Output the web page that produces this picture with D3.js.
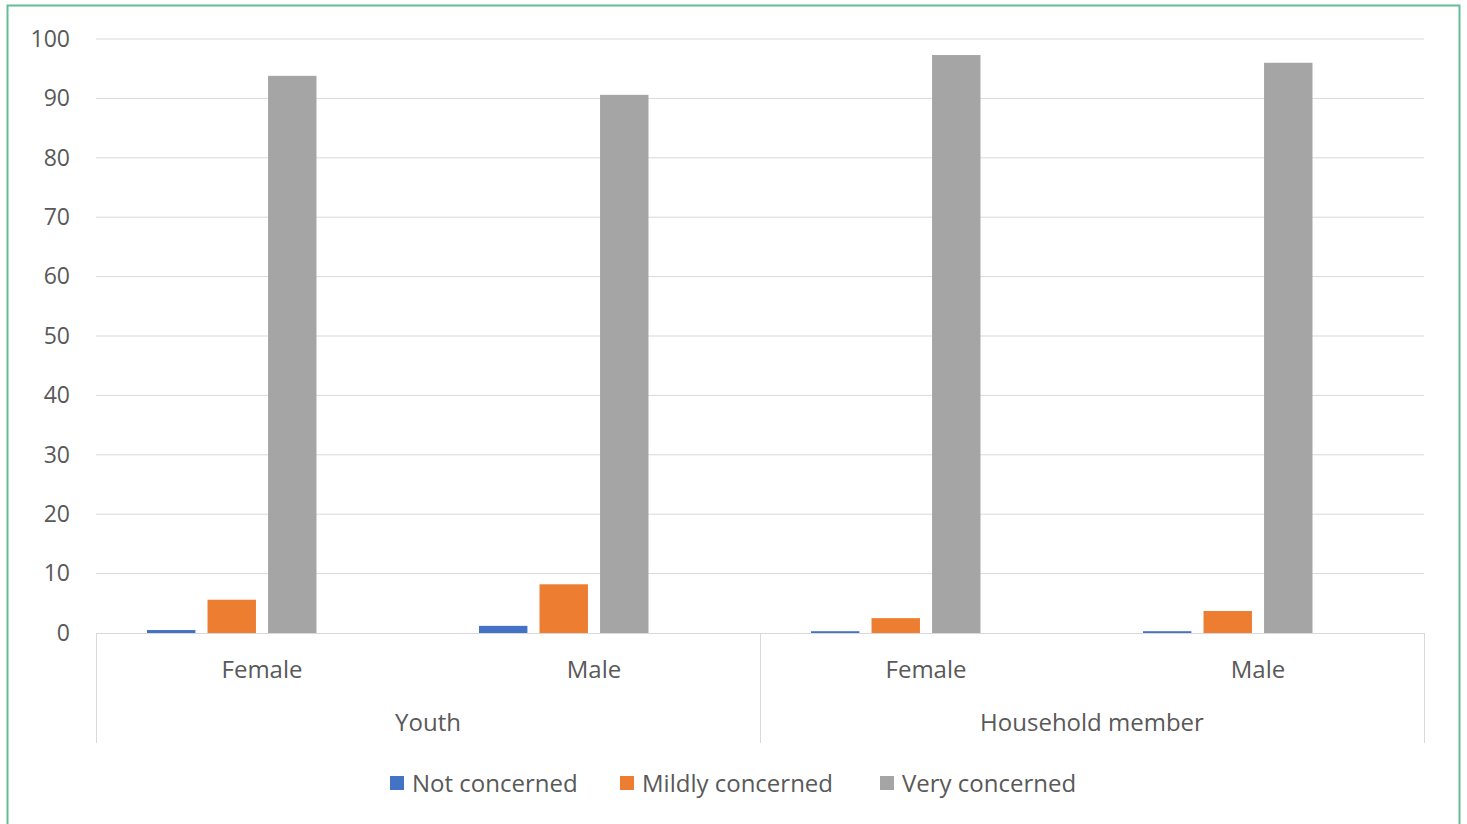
<!DOCTYPE html>
<html>
<head>
<meta charset="utf-8">
<script src="https://cdn.jsdelivr.net/npm/d3@7"></script>
<style>
  body { margin: 0; background: #fff; }
  text { font-family: "Open Sans", Lato, sans-serif; fill: #595959; }
</style>
</head>
<body>
<div id="chart"></div>
<script>
// datos del gráfico
const groups = ["Youth", "Household member"];
const categories = ["Female", "Male"];
const series = ["Not concerned", "Mildly concerned", "Very concerned"];
const colors = ["#4472C4", "#ED7D31", "#A5A5A5"];
const notConcerned = [0.5, 1.2, 0.3, 0.3];
const mildlyConcerned = [5.6, 8.2, 2.5, 3.7];
const veryConcerned = [93.8, 90.6, 97.3, 96.0];
const yTicks = [0, 10, 20, 30, 40, 50, 60, 70, 80, 90, 100];

const values = [notConcerned, mildlyConcerned, veryConcerned];

const W = 1467, H = 824;
const margin = { top: 39, left: 96, right: 43, bottom: 191 };
const width = W - margin.left - margin.right;
const height = H - margin.top - margin.bottom;

const svg = d3.select("#chart").append("svg")
  .attr("width", W).attr("height", H);

// borde verde
svg.append("rect")
  .attr("x", 7.5).attr("y", 5.5)
  .attr("width", 1452).attr("height", 840)
  .attr("fill", "none").attr("stroke", "#62bd98").attr("stroke-width", 2);

const g = svg.append("g").attr("transform", `translate(${margin.left},${margin.top})`);

// una fila por categoría (grupo + sexo)
const rows = [];
groups.forEach((grp, gi) => categories.forEach((cat, ci) => rows.push({ key: grp + "|" + cat, grp, cat })));

const x0 = d3.scaleBand().domain(rows.map(d => d.key)).range([0, width]).paddingInner(0).paddingOuter(0);
// 4 posiciones (la cuarta vacía, como en el original)
const x1 = d3.scaleBand().domain(d3.range(4)).range([51, x0.bandwidth() - 51]).paddingInner(0.2);
const y = d3.scaleLinear().domain([0, 100]).range([height, 0]);

// líneas de cuadrícula
g.selectAll(".grid").data(yTicks.filter(t => t > 0)).enter().append("line")
  .attr("x1", 0).attr("x2", width)
  .attr("y1", d => y(d)).attr("y2", d => y(d))
  .attr("stroke", "#d9d9d9").attr("stroke-width", 1);

// eje Y
const yAxis = g.append("g").call(d3.axisLeft(y).tickValues(yTicks).tickSize(0).tickPadding(26));
yAxis.select(".domain").remove();
yAxis.selectAll("text").style("font-size", "23px").style("font-family", "'Open Sans', sans-serif").attr("fill", "#595959");

// barras
rows.forEach((r, ri) => {
  g.selectAll(null).data(series).enter().append("rect")
    .attr("x", (s, si) => x0(r.key) + x1(si))
    .attr("width", x1.bandwidth())
    .attr("y", (s, si) => y(values[si][ri]))
    .attr("height", (s, si) => y(0) - y(values[si][ri]))
    .attr("fill", (s, si) => colors[si]);
});

// eje X de dos niveles
g.append("line").attr("x1", 0).attr("x2", width).attr("y1", height + 0.5).attr("y2", height + 0.5)
  .attr("stroke", "#d9d9d9");

const groupWidth = width / groups.length;
d3.range(groups.length + 1).forEach(i => {
  g.append("line")
    .attr("x1", i * groupWidth + 0.5).attr("x2", i * groupWidth + 0.5)
    .attr("y1", height).attr("y2", height + 110)
    .attr("stroke", "#d9d9d9");
});

g.selectAll(".cat").data(rows).enter().append("text")
  .attr("x", d => x0(d.key) + x0.bandwidth() / 2)
  .attr("y", height + 45)
  .attr("text-anchor", "middle")
  .style("font-size", "24px")
  .text(d => d.cat);

g.selectAll(".grp").data(groups).enter().append("text")
  .attr("x", (d, i) => i * groupWidth + groupWidth / 2)
  .attr("y", height + 98)
  .attr("text-anchor", "middle")
  .style("font-size", "24px")
  .text(d => d);

// leyenda
const legendX = [390, 620, 880];
const legend = svg.append("g").attr("transform", "translate(0,776)");
series.forEach((s, i) => {
  legend.append("rect").attr("x", legendX[i]).attr("y", 0).attr("width", 14).attr("height", 14).attr("fill", colors[i]);
  legend.append("text").attr("x", legendX[i] + 22).attr("y", 16).style("font-size", "24px").text(s);
});
</script>
</body>
</html>
